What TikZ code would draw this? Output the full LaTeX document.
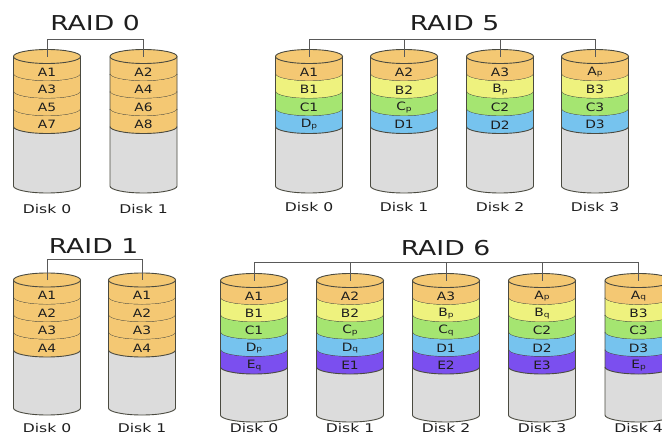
\documentclass[tikz,border=0pt]{standalone}
\usepackage{fontspec}
\setmainfont{DejaVu Sans}
\definecolor{ca}{HTML}{F4C873}
\definecolor{cb}{HTML}{EEF27E}
\definecolor{cc}{HTML}{A5E571}
\definecolor{cd}{HTML}{76C3EE}
\definecolor{ce}{HTML}{7B4FEF}
\definecolor{cbody}{HTML}{DCDCDC}
\definecolor{coutl}{HTML}{4A4A40}
\definecolor{ctext}{HTML}{1E1E1E}
\newcommand\sub[1]{\raisebox{-0.6pt}{\fontsize{7.5}{7.5}\selectfont #1}}
\newcommand\wide[2]{\scalebox{#1}[1]{#2}}
\def\rx{33.5}
\def\ry{7}
\tikzset{
  outl/.style={draw=coutl,line width=0.9pt},
  barline/.style={draw=black!65,line width=0.9pt},
  blabel/.style={inner sep=0pt,text=ctext,font=\fontsize{11.5}{11.5}\selectfont},
  title/.style={inner sep=0pt,anchor=base,text=ctext,font=\fontsize{20.5}{20.5}\selectfont},
  dlabel/.style={inner sep=0pt,anchor=base,text=ctext,font=\fontsize{12}{12}\selectfont},
}
% name, cx, yt, yb, h, list of colour/label
\newcommand\drawdisk[6]{%
  \fill[cbody] (#2-\rx,#3) -- (#2-\rx,#4) arc[start angle=180,end angle=0,x radius=\rx,y radius=\ry] -- (#2+\rx,#3) -- cycle;
  \foreach \c/\t [count=\i from 0] in {#6}{
    \fill[\c] (#2-\rx,{#3+\i*#5}) arc[start angle=180,end angle=0,x radius=\rx,y radius=\ry] -- (#2+\rx,{#3+(\i+1)*#5}) arc[start angle=0,end angle=180,x radius=\rx,y radius=\ry] -- cycle;
    \draw[outl] (#2-\rx,{#3+(\i+1)*#5}) arc[start angle=180,end angle=0,x radius=\rx,y radius=\ry];
    \node[blabel] (#1b\i) at (#2,{#3+\ry+(\i+0.5)*#5}) {\wide{1.2}{\t}};
  }
  \filldraw[outl,fill=ca] (#2,#3) ellipse[x radius=\rx,y radius=\ry];
  \draw[outl] (#2-\rx,#3) -- (#2-\rx,#4) arc[start angle=180,end angle=0,x radius=\rx,y radius=\ry] -- (#2+\rx,#3);
  \coordinate (#1) at (#2,#3);
}
\begin{document}
\begin{tikzpicture}[x=1pt,y=-1pt]
\useasboundingbox (0,0) rectangle (662,434);
\clip (0,0) rectangle (662,434);
\fill[white] (0,0) rectangle (662,434);

% ---------------- RAID 0 ----------------
\node[title] (t0) at (95,30.7) {\wide{1.3}{RAID 0}};
\drawdisk{r0d0}{47}{56.5}{186}{17.5}{ca/A1,ca/A3,ca/A5,ca/A7}
\drawdisk{r0d1}{143.5}{56.5}{186}{17.5}{ca/A2,ca/A4,ca/A6,ca/A8}
\coordinate (r0bar) at (95,39);
\draw[barline] (r0d0) -- (r0d0 |- r0bar) -- (r0d1 |- r0bar) -- (r0d1);
\node[dlabel] (r0l0) at (47,213) {\wide{1.3}{Disk 0}};
\node[dlabel] (r0l1) at (143.5,213) {\wide{1.3}{Disk 1}};

% ---------------- RAID 5 ----------------
\node[title] (t5) at (454.5,30.5) {\wide{1.3}{RAID 5}};
\drawdisk{r5d0}{309}{56.5}{186}{17.5}{ca/A1,cb/B1,cc/C1,cd/D\sub{p}}
\drawdisk{r5d1}{404}{56.5}{186}{17.5}{ca/A2,cb/B2,cc/C\sub{p},cd/D1}
\drawdisk{r5d2}{500}{56.5}{186}{17.5}{ca/A3,cb/B\sub{p},cc/C2,cd/D2}
\drawdisk{r5d3}{595}{56.5}{186}{17.5}{ca/A\sub{p},cb/B3,cc/C3,cd/D3}
\coordinate (r5bar) at (455,39);
\draw[barline] (r5d0 |- r5bar) -- (r5d3 |- r5bar);
\foreach \k in {0,1,2,3}{\draw[barline] (r5d\k) -- (r5d\k |- r5bar);}
\node[dlabel] (r5l0) at (309,211.5) {\wide{1.3}{Disk 0}};
\node[dlabel] (r5l1) at (404,211.5) {\wide{1.3}{Disk 1}};
\node[dlabel] (r5l2) at (500,211.5) {\wide{1.3}{Disk 2}};
\node[dlabel] (r5l3) at (595,211.5) {\wide{1.3}{Disk 3}};

% ---------------- RAID 1 ----------------
\node[title] (t1) at (93.5,253) {\wide{1.3}{RAID 1}};
\drawdisk{r1d0}{47}{280}{408}{17.5}{ca/A1,ca/A2,ca/A3,ca/A4}
\drawdisk{r1d1}{142}{280}{408}{17.5}{ca/A1,ca/A2,ca/A3,ca/A4}
\coordinate (r1bar) at (93,259);
\draw[barline] (r1d0) -- (r1d0 |- r1bar) -- (r1d1 |- r1bar) -- (r1d1);
\node[dlabel] (r1l0) at (47,432.5) {\wide{1.3}{Disk 0}};
\node[dlabel] (r1l1) at (142,432.5) {\wide{1.3}{Disk 1}};

% ---------------- RAID 6 ----------------
\node[title] (t6) at (445.5,255) {\wide{1.3}{RAID 6}};
\drawdisk{r6d0}{254}{280.5}{415}{17.3}{ca/A1,cb/B1,cc/C1,cd/D\sub{p},ce/E\sub{q}}
\drawdisk{r6d1}{350}{280.5}{415}{17.3}{ca/A2,cb/B2,cc/C\sub{p},cd/D\sub{q},ce/E1}
\drawdisk{r6d2}{446}{280.5}{415}{17.3}{ca/A3,cb/B\sub{p},cc/C\sub{q},cd/D1,ce/E2}
\drawdisk{r6d3}{542}{280.5}{415}{17.3}{ca/A\sub{p},cb/B\sub{q},cc/C2,cd/D2,ce/E3}
\drawdisk{r6d4}{638.5}{280.5}{415}{17.3}{ca/A\sub{q},cb/B3,cc/C3,cd/D3,ce/E\sub{p}}
\coordinate (r6bar) at (446,262);
\draw[barline] (r6d0 |- r6bar) -- (r6d4 |- r6bar);
\foreach \k in {0,1,2,3,4}{\draw[barline] (r6d\k) -- (r6d\k |- r6bar);}
\node[dlabel] (r6l0) at (254,432.5) {\wide{1.3}{Disk 0}};
\node[dlabel] (r6l1) at (350,432.5) {\wide{1.3}{Disk 1}};
\node[dlabel] (r6l2) at (446,432.5) {\wide{1.3}{Disk 2}};
\node[dlabel] (r6l3) at (542,432.5) {\wide{1.3}{Disk 3}};
\node[dlabel] (r6l4) at (638.5,432.5) {\wide{1.3}{Disk 4}};
\end{tikzpicture}
\end{document}
